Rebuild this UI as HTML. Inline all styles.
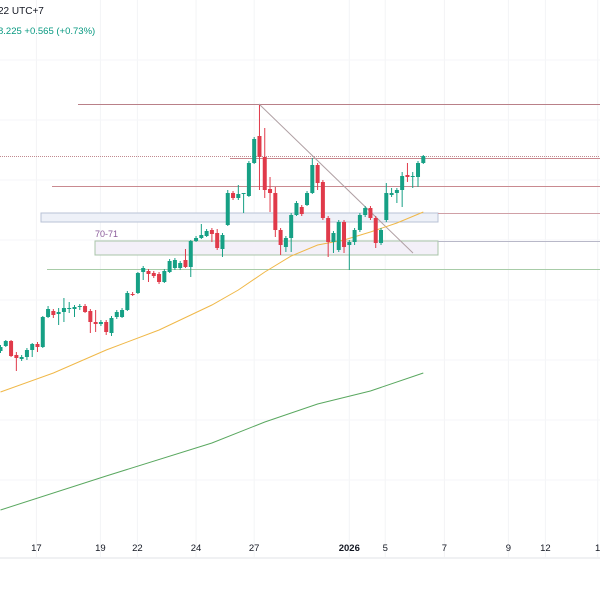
<!DOCTYPE html>
<html><head><meta charset="utf-8"><style>
html,body{margin:0;padding:0;background:#fff;}
svg{display:block;font-family:"Liberation Sans",sans-serif;}
</style></head><body>
<svg id="chart" width="600" height="600" viewBox="0 0 600 600">
<g id="grid"></g>
<text x="-2" y="14" font-size="10" fill="#131722">22 UTC+7</text>
<text x="-2" y="34" font-size="9.5" fill="#089981">8.225  +0.565 (+0.73%)</text>
<g id="drawings"></g>
<g id="mas"></g>
<g id="candles"></g>
<g id="xaxis"></g>
</svg>
<script>
const opens=[64.9,65.4,65.9,64.5,64.1,64.3,65.0,65.6,65.3,68.3,68.9,68.6,68.8,69.1,69.1,69.3,69.4,68.9,67.8,67.6,67.8,66.7,68.3,68.3,69.0,70.6,70.7,72.8,72.9,72.7,72.6,71.8,72.8,73.2,73.2,74.0,73.3,75.9,76.2,76.4,77.0,76.7,75.1,77.5,80.7,80.2,80.6,80.4,83.7,86.4,84.3,81.1,80.7,77.0,75.3,76.2,78.5,79.3,79.5,80.7,83.5,81.8,78.2,75.8,75.0,77.8,75.5,75.8,77.0,78.5,79.2,78.2,75.7,78.0,80.5,80.7,81.0,82.5,82.3,82.3,83.7];
const highs=[65.5,66.0,66.0,64.8,64.5,65.2,65.7,65.8,68.4,69.4,69.1,69.2,70.2,69.8,69.5,69.6,69.6,69.1,69.0,68.0,68.0,68.4,69.0,69.2,70.9,70.8,72.8,73.4,73.1,72.9,72.8,73.1,74.1,74.2,73.9,75.1,76.0,76.4,77.6,77.1,77.2,77.1,76.7,81.0,80.9,81.5,80.7,83.9,86.3,89.5,87.2,82.3,81.3,77.2,76.4,78.7,79.9,79.5,80.9,84.2,83.7,82.0,78.4,76.9,78.0,78.0,76.0,77.2,78.7,79.4,79.4,78.4,77.2,81.7,81.2,81.2,82.8,83.7,82.8,83.9,84.5];
const lows=[64.7,65.3,64.3,62.9,63.9,64.0,64.3,64.8,65.2,68.2,68.2,67.5,67.8,68.7,68.3,69.0,68.7,66.7,66.8,67.4,66.5,66.4,68.1,68.2,68.9,70.4,70.6,72.0,71.8,72.2,71.6,71.7,72.7,73.0,73.0,73.2,72.3,75.8,76.1,76.3,75.8,75.0,74.3,77.4,80.0,80.0,78.7,80.3,83.6,81.0,80.2,78.8,76.3,74.5,74.8,74.8,78.4,78.4,79.4,80.6,81.0,78.0,74.3,74.7,74.8,74.7,73.0,75.5,76.8,78.3,78.0,75.2,75.5,77.8,80.3,79.7,79.3,81.8,81.2,81.3,83.6];
const closes=[65.3,65.9,64.4,64.2,64.3,65.0,65.6,65.3,68.3,69.1,68.5,68.8,69.2,69.2,69.3,69.4,68.8,67.8,67.6,67.8,66.8,68.2,68.8,69.0,70.7,70.5,72.7,73.2,72.6,72.4,71.8,72.9,73.9,74.0,73.7,73.3,75.9,76.2,76.5,76.9,76.6,75.2,76.5,80.7,80.2,80.6,80.7,83.7,86.1,84.3,81.0,80.7,77.0,75.5,76.2,78.5,79.7,78.6,80.7,83.5,81.7,78.2,75.8,76.7,77.8,75.3,75.8,77.0,78.5,79.2,78.2,75.7,77.0,80.7,80.7,81.0,82.4,82.3,82.4,83.7,84.4];
const maFastIdx=[0,10,20,30,40,45,50,55,60,65,70,75,80];
const maFastVal=[60.8,62.7,65.0,67.0,69.5,71.0,72.8,74.4,75.5,76.0,76.8,77.7,78.8];
const maSlowIdx=[0,20,40,50,60,70,80];
const maSlowVal=[49.0,52.4,55.7,57.8,59.6,60.9,62.7];
const tickLabels=["17","19","22","24","27","2026","5","7","9","12","1"];
const tickIdx=[6.8,18.9,25.9,37.0,48.0,66.0,72.8,84.0,96.1,103.1,113.0];

const NS="http://www.w3.org/2000/svg";
const step=5.285, x0=0.5;
function xs(i){return x0+i*step;}
function ys(p){return (100-p)*10;}
function mk(tag,attrs,parent){const e=document.createElementNS(NS,tag);for(const k in attrs)e.setAttribute(k,attrs[k]);parent.appendChild(e);return e;}

const grid=document.getElementById('grid');
tickIdx.forEach(t=>{
  const l=mk('line',{x1:xs(t),x2:xs(t),y1:0,y2:558,stroke:'#f3f4f6','stroke-width':1},grid);
  
  
});
[60,120,180,240,300,360,420,480].forEach(y=>{
  const l=mk('line',{x1:0,x2:600,y1:y,y2:y,stroke:'#f5f6f8','stroke-width':1},grid);
  
  
});

const dr=document.getElementById('drawings');
function hline(x1,y,name,color,dash){
  const l=mk('line',{x1:x1,x2:600,y1:y,y2:y,stroke:color,'stroke-width':1},dr);
  if(dash)l.setAttribute('stroke-dasharray',dash);
  
  
}
let b=mk('rect',{x:41,y:213,width:397,height:9,fill:'#eef1f8',stroke:'#b8c2d6','stroke-width':1},dr);


b=mk('rect',{x:95,y:241,width:343,height:14,fill:'#f3f0f8',stroke:'#a8c4a8','stroke-width':1},dr);


const zl=mk('text',{x:95,y:237,'font-size':9,fill:'#8a5a9a'},dr);
zl.textContent='70-71';


hline(78,104.5,'resistance-line-top','#b98088');
hline(0,156.5,'current-price-line','#c08a90','1,1');
hline(230,158.5,'resistance-line-2','#c98a90');
hline(52,186.5,'resistance-line-3','#c98a90');
hline(438,213.5,'zone-line-upper','#d0a0a6');
hline(438,241.5,'zone-line-70-71','#b8b8c8');
hline(47,269.5,'support-line-green','#a8cca8');
const tl=mk('line',{x1:259,y1:104,x2:413,y2:253,stroke:'#b0a0a4','stroke-width':1},dr);



const mas=document.getElementById('mas');
function maPath(idx,val,color,name){
  const d=idx.map((i,k)=>(k?'L':'M')+xs(i).toFixed(1)+','+ys(val[k]).toFixed(1)).join(' ');
  const p=mk('path',{d:d,fill:'none',stroke:color,'stroke-width':1},mas);
  
  
}
maPath(maFastIdx,maFastVal,'#f0b848','ma-fast-line');
maPath(maSlowIdx,maSlowVal,'#5aa860','ma-slow-line');

const cg=document.getElementById('candles');
opens.forEach((o,i)=>{
  const c=closes[i], up=c>=o, col=up?'#16a085':'#e03a4a';
  const x=xs(i);
  const w=mk('line',{x1:x,x2:x,y1:ys(highs[i]),y2:ys(lows[i]),stroke:col,'stroke-width':1},cg);
  
  
  const top=ys(Math.max(o,c)), h=Math.max(1,Math.abs(ys(o)-ys(c)));
  const r=mk('rect',{x:x-2,y:top,width:4,height:h,fill:col},cg);
  
  
});

const xa=document.getElementById('xaxis');
tickLabels.forEach((t,k)=>{
  const e=mk('text',{x:xs(tickIdx[k]),y:551,'font-size':9.5,fill:'#131722','text-anchor':'middle','font-weight':t==='2026'?'bold':'normal'},xa);
  e.textContent=t;
  
  
});
const ax=mk('line',{x1:0,x2:600,y1:558,y2:558,stroke:'#f0f1f3','stroke-width':2},xa);


</script>
</body></html>
